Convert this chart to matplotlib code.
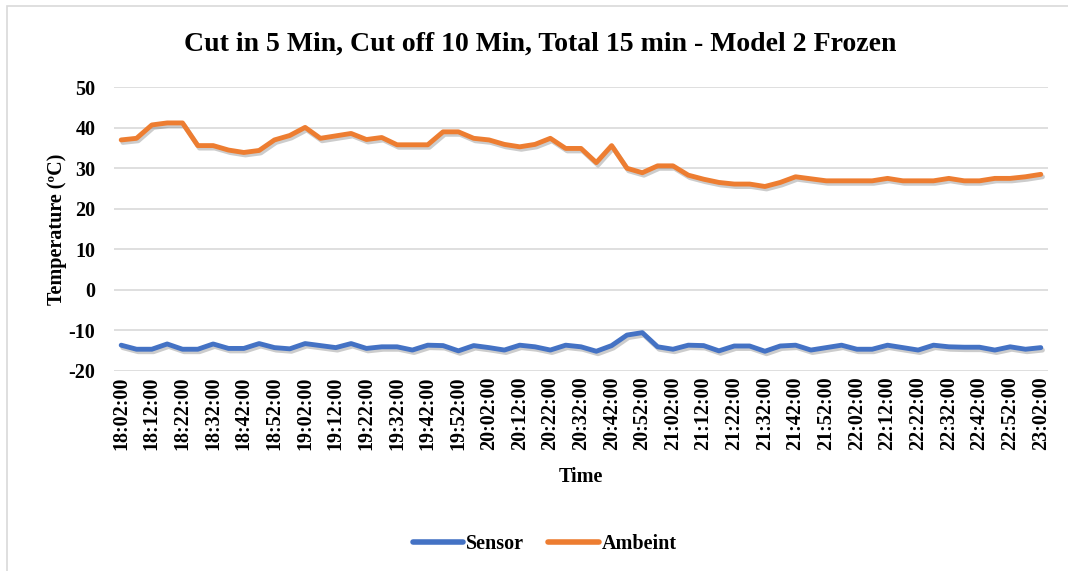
import matplotlib
matplotlib.use("Agg")
import matplotlib.pyplot as plt
import matplotlib.patheffects as pe
from matplotlib.patches import Rectangle

title = "Cut in 5 Min, Cut off 10 Min, Total 15 min - Model 2 Frozen"

tick_labels = ["18:02:00", "18:12:00", "18:22:00", "18:32:00", "18:42:00", "18:52:00",
               "19:02:00", "19:12:00", "19:22:00", "19:32:00", "19:42:00", "19:52:00",
               "20:02:00", "20:12:00", "20:22:00", "20:32:00", "20:42:00", "20:52:00",
               "21:02:00", "21:12:00", "21:22:00", "21:32:00", "21:42:00", "21:52:00",
               "22:02:00", "22:12:00", "22:22:00", "22:32:00", "22:42:00", "22:52:00",
               "23:02:00"]

sensor = [-13.7, -14.7, -14.7, -13.4, -14.7, -14.7, -13.4, -14.5, -14.5, -13.3,
          -14.3, -14.6, -13.3, -13.8, -14.3, -13.3, -14.5, -14.1, -14.1, -14.9,
          -13.7, -13.8, -15.1, -13.8, -14.3, -14.9, -13.7, -14.1, -14.9, -13.7,
          -14.1, -15.2, -13.8, -11.2, -10.6, -14.1, -14.7, -13.7, -13.8, -15.1,
          -13.9, -13.9, -15.2, -13.9, -13.7, -14.9, -14.3, -13.7, -14.7, -14.7,
          -13.7, -14.3, -14.9, -13.7, -14.1, -14.2, -14.2, -14.9, -14.1, -14.7,
          -14.3]

ambeint = [37.0, 37.4, 40.7, 41.2, 41.2, 35.6, 35.6, 34.5, 33.9, 34.4,
           37.0, 38.1, 40.1, 37.4, 38.0, 38.6, 37.1, 37.6, 35.8, 35.8,
           35.8, 39.0, 39.0, 37.4, 37.0, 35.9, 35.3, 35.9, 37.4, 34.9,
           34.9, 31.4, 35.6, 30.0, 28.9, 30.6, 30.6, 28.3, 27.3, 26.5,
           26.1, 26.1, 25.5, 26.5, 27.9, 27.4, 26.9, 26.9, 26.9, 26.9,
           27.5, 26.9, 26.9, 26.9, 27.5, 26.9, 26.9, 27.5, 27.5, 27.9,
           28.5]

yticks = [-20, -10, 0, 10, 20, 30, 40, 50]

FONT = "Liberation Serif"
BLUE = "#4472C4"
ORANGE = "#ED7D31"
FS = 14.5

fig = plt.figure(figsize=(10.68, 5.71), dpi=100)
ax = fig.add_axes([0.1063, 0.3508, 0.8754, 0.4963])

x = list(range(len(sensor)))
shadow = [pe.SimpleLineShadow(offset=(1.2, -1.8), shadow_color="black", alpha=0.2),
          pe.Normal()]
ax.plot(x, sensor, color=BLUE, lw=3.5, solid_capstyle="round", solid_joinstyle="round",
        label="Sensor", path_effects=shadow, zorder=3)
ax.plot(x, ambeint, color=ORANGE, lw=3.5, solid_capstyle="round", solid_joinstyle="round",
        label="Ambeint", path_effects=shadow, zorder=3)

ax.set_xlim(-0.5, len(sensor) - 0.5)
ax.set_ylim(-20, 50)
ax.set_yticks(yticks)
ax.set_yticklabels([str(v) for v in yticks], fontfamily=FONT, fontweight="bold", fontsize=FS)
ax.set_xticks(list(range(0, len(sensor), 2)))
ax.set_xticklabels(tick_labels, rotation=90, fontfamily=FONT, fontweight="bold", fontsize=FS)
ax.tick_params(axis="both", length=0)
ax.tick_params(axis="y", pad=13)
ax.tick_params(axis="x", pad=4)
ax.grid(axis="y", color="#D9D9D9", lw=1.2, zorder=0)
ax.set_axisbelow(True)
for s in ax.spines.values():
    s.set_visible(False)

ax.set_xlabel("Time", fontfamily=FONT, fontweight="bold", fontsize=FS, labelpad=12)
ax.set_ylabel("Temperature (ºC)", fontfamily=FONT, fontweight="bold", fontsize=FS, labelpad=1)

fig.text(0.506, 0.923, title, ha="center", va="center", fontfamily=FONT,
         fontweight="bold", fontsize=20)

leg = fig.legend(loc="center", bbox_to_anchor=(0.51, 0.047), ncol=2, frameon=False,
                 prop={"family": FONT, "weight": "bold", "size": FS},
                 handlelength=2.5, handletextpad=0.15, columnspacing=1.2)
for h in leg.legend_handles:
    h.set_linewidth(4)
    h.set_solid_capstyle("round")
    h.set_path_effects([])

fig.patches.append(Rectangle((7 / 1068, -0.1), 1.2, 1 - 6 / 571 + 0.1,
                             transform=fig.transFigure, fill=False,
                             edgecolor="#D9D9D9", lw=1.2))

fig.savefig("out.png", dpi=100)
